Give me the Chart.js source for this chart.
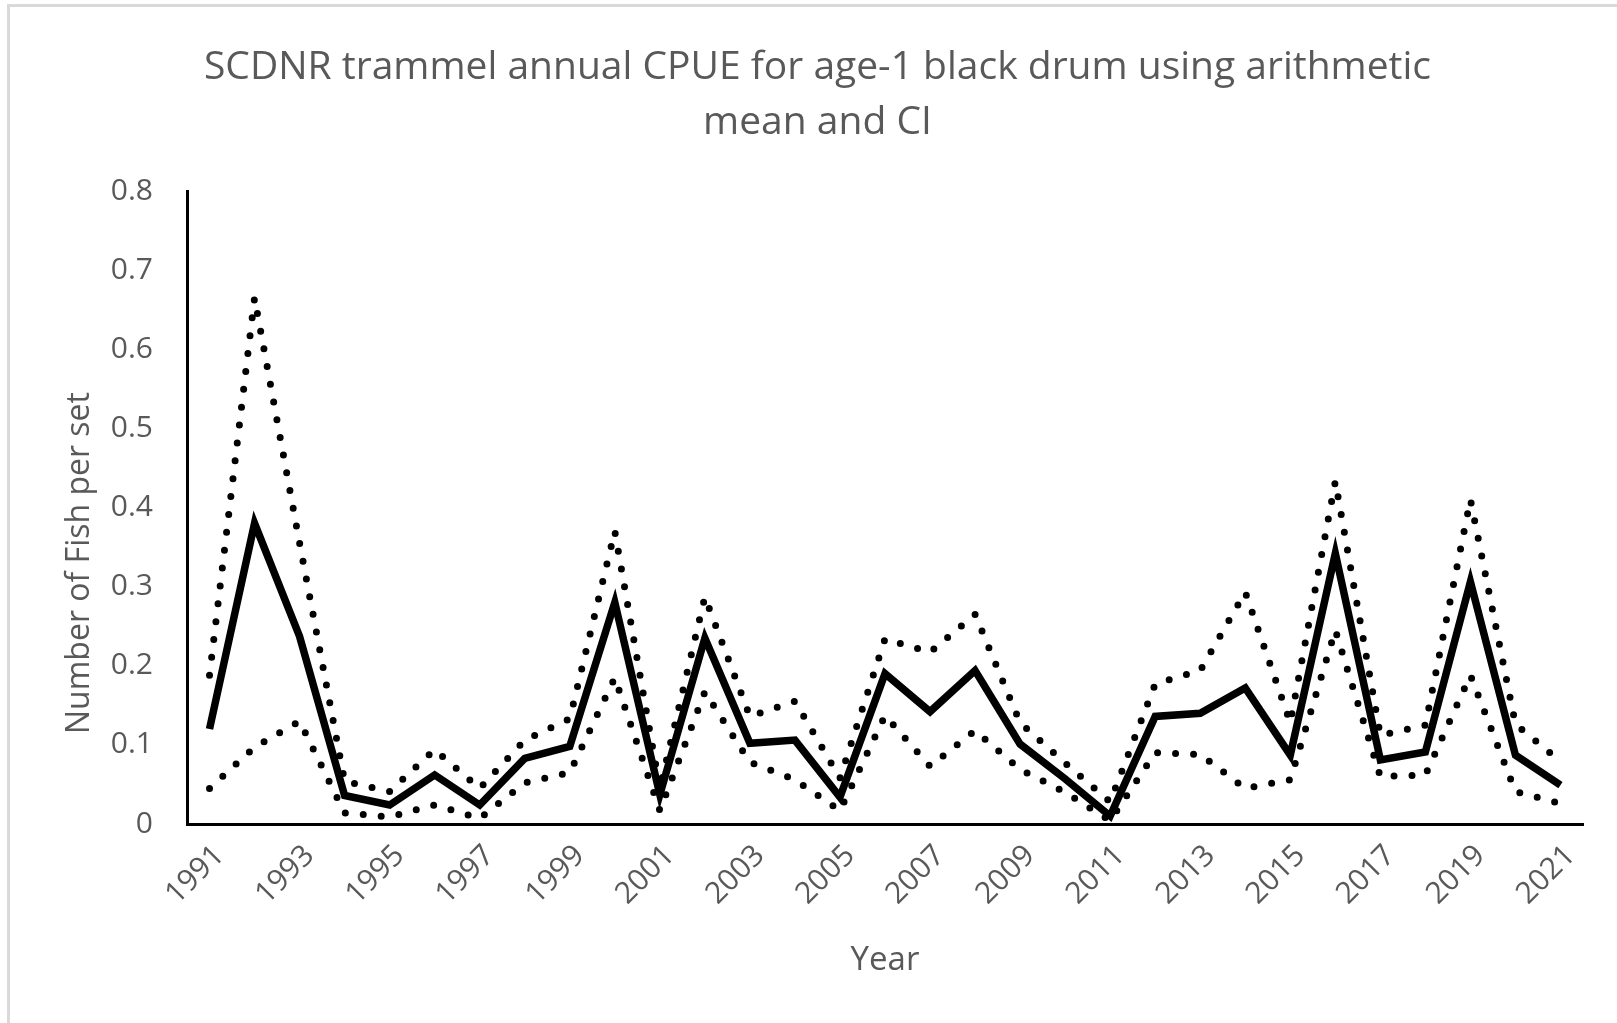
<!DOCTYPE html>
<html>
<head>
<meta charset="utf-8">
<title>SCDNR trammel annual CPUE</title>
<script src="https://cdn.jsdelivr.net/npm/chart.js@4.4.1/dist/chart.umd.min.js"></script>
<style>
  body { margin: 0; background: #ffffff; }
  #wrap { position: relative; width: 1617px; height: 1023px; overflow: hidden; }
  #frame {
    position: absolute; left: 7px; top: 4px; width: 1700px; height: 1100px;
    border-left: 3px solid #d9d9d9; border-top: 3px solid #d9d9d9;
  }
  #chart { position: absolute; left: 0; top: 0; }
</style>
</head>
<body>
<div id="wrap">
  <div id="frame"></div>
  <canvas id="chart" width="1617" height="1023"></canvas>
</div>
<script>
// years on the category axis
const years = [
  "1991", "1992", "1993", "1994", "1995", "1996", "1997", "1998", "1999", "2000",
  "2001", "2002", "2003", "2004", "2005", "2006", "2007", "2008", "2009", "2010",
  "2011", "2012", "2013", "2014", "2015", "2016", "2017", "2018", "2019", "2020", "2021"
];

// arithmetic mean CPUE (fish per set)
const meanCpue = [
  0.120, 0.380, 0.237, 0.036, 0.024, 0.062, 0.024, 0.083, 0.098, 0.280,
  0.037, 0.235, 0.102, 0.106, 0.034, 0.190, 0.142, 0.194, 0.101, 0.057,
  0.010, 0.136, 0.140, 0.172, 0.087, 0.342, 0.081, 0.091, 0.306, 0.087, 0.049
];

// upper confidence limit
const upperCI = [
  0.188, 0.665, 0.355, 0.054, 0.041, 0.094, 0.045, 0.106, 0.133, 0.370,
  0.045, 0.287, 0.136, 0.155, 0.058, 0.234, 0.217, 0.265, 0.128, 0.077,
  0.028, 0.177, 0.194, 0.293, 0.128, 0.433, 0.112, 0.125, 0.410, 0.126, 0.079
];

// lower confidence limit
const lowerCI = [
  0.045, 0.097, 0.130, 0.014, 0.009, 0.024, 0.007, 0.052, 0.065, 0.185,
  0.017, 0.167, 0.078, 0.056, 0.017, 0.137, 0.073, 0.118, 0.069, 0.040,
  0.004, 0.090, 0.088, 0.045, 0.056, 0.245, 0.060, 0.062, 0.188, 0.041, 0.026
];

const titleLines = ["SCDNR trammel annual CPUE for age-1 black drum using arithmetic", "mean and CI"];
const yTitle = "Number of Fish per set";
const xTitle = "Year";

const textGray = "#595959";
const fontFamily = "'Open Sans', sans-serif";

// the y axis title sits a bit below the plot centre, so draw it by hand
const yTitlePlugin = {
  id: "yTitle",
  afterDraw(chart) {
    const ctx = chart.ctx;
    ctx.save();
    ctx.translate(80, 563);
    ctx.rotate(-Math.PI / 2);
    ctx.font = "32px " + fontFamily;
    ctx.fillStyle = textGray;
    ctx.textAlign = "center";
    ctx.textBaseline = "middle";
    ctx.fillText(yTitle, 0, 0);
    ctx.restore();
  }
};

const dotted = {
  borderColor: "#000000",
  borderWidth: 7,
  borderDash: [0, 18],
  borderCapStyle: "round",
  pointRadius: 0,
  fill: false,
  tension: 0
};

new Chart(document.getElementById("chart"), {
  type: "line",
  plugins: [yTitlePlugin],
  data: {
    labels: years,
    datasets: [
      Object.assign({ label: "Upper CI", data: upperCI }, dotted),
      Object.assign({ label: "Lower CI", data: lowerCI }, dotted),
      {
        label: "Mean",
        data: meanCpue,
        borderColor: "#000000",
        borderWidth: 7.5,
        borderCapStyle: "butt",
        pointRadius: 0,
        fill: false,
        tension: 0
      }
    ]
  },
  options: {
    responsive: false,
    animation: false,
    layout: { padding: { left: 52, right: 34, top: 0, bottom: 0 } },
    plugins: {
      legend: { display: false },
      tooltip: { enabled: false },
      title: {
        display: true,
        text: titleLines,
        color: textGray,
        font: { family: fontFamily, size: 39, weight: "normal", lineHeight: 55 / 39 },
        padding: { top: 40, bottom: 41 }
      }
    },
    scales: {
      x: {
        type: "category",
        offset: true,
        grid: { display: false, drawTicks: false },
        border: { display: true, color: "#000000", width: 3 },
        ticks: {
          autoSkip: false,
          maxRotation: 45,
          minRotation: 45,
          padding: 14,
          labelOffset: 10,
          color: textGray,
          font: { family: fontFamily, size: 30 },
          callback: function (value, index) {
            return index % 2 === 0 ? this.getLabelForValue(value) : "";
          }
        },
        title: {
          display: true,
          text: xTitle,
          color: textGray,
          font: { family: fontFamily, size: 33 },
          padding: { top: 0, bottom: 43 }
        },
        afterFit: (scale) => { scale.height = 199; }
      },
      y: {
        min: 0,
        max: 0.8,
        grid: { display: false, drawTicks: false },
        border: { display: true, color: "#000000", width: 3 },
        ticks: {
          stepSize: 0.1,
          padding: 34,
          color: textGray,
          font: { family: fontFamily, size: 30 }
        },
        afterFit: (scale) => { scale.width = 135; }
      }
    }
  }
});
</script>
</body>
</html>
